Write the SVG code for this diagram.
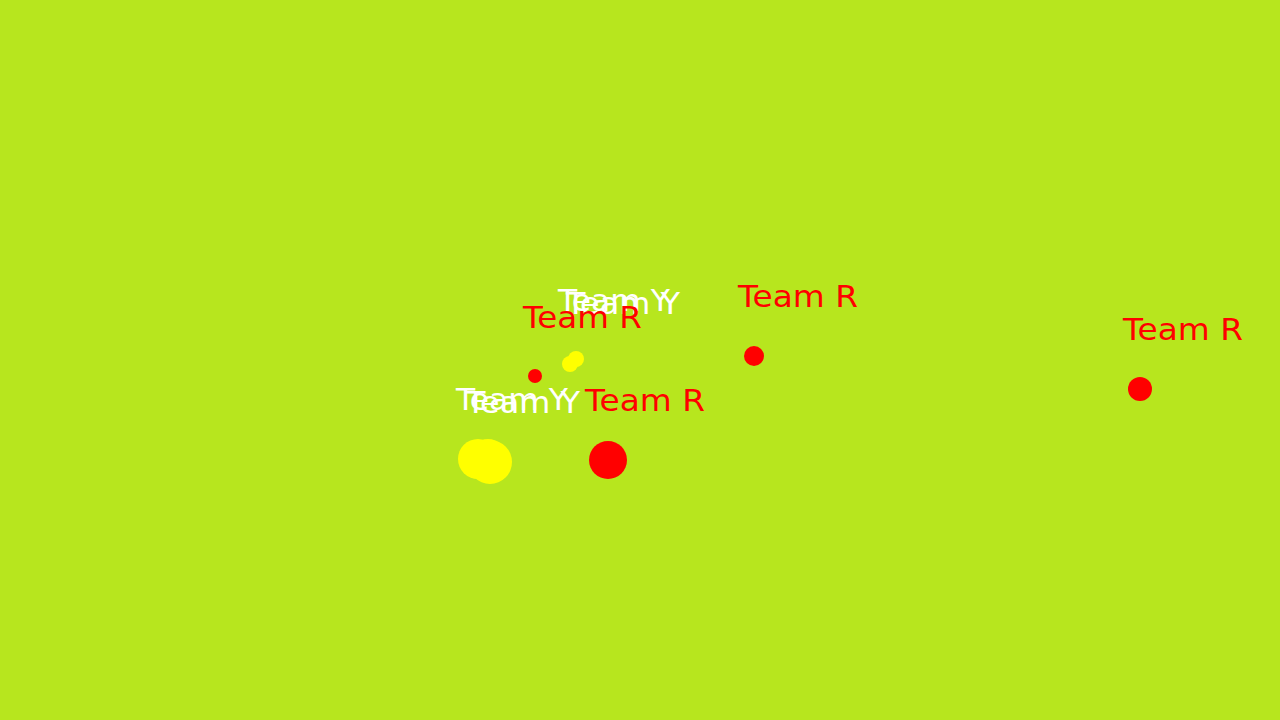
<svg xmlns="http://www.w3.org/2000/svg" width="1280" height="720" viewBox="0 0 1280 720">
<style>
.r{fill:#ff0000}
.y{fill:#ffff00}
.tr{font-family:"DejaVu Sans","Liberation Sans",sans-serif;font-size:31px;fill:#ff0000}
.ty{font-family:"DejaVu Sans","Liberation Sans",sans-serif;font-size:31px;fill:#ffffff}
</style>
<rect width="1280" height="720" fill="#b7e61e"/>
<g id="yellow1"><text class="ty" x="558" y="311" textLength="112" lengthAdjust="spacingAndGlyphs">Team Y</text><text class="ty" x="566" y="314" textLength="114" lengthAdjust="spacingAndGlyphs">Team Y</text><circle class="y" cx="570" cy="364" r="8"/><circle class="y" cx="576" cy="359" r="8"/></g>
<g id="red1"><text class="tr" x="523" y="328" textLength="119" lengthAdjust="spacingAndGlyphs">Team R</text><circle class="r" cx="535" cy="376" r="7"/></g>
<g id="red2"><text class="tr" x="738" y="307" textLength="120" lengthAdjust="spacingAndGlyphs">Team R</text><circle class="r" cx="754" cy="356" r="10"/></g>
<g id="red3"><text class="tr" x="1123" y="340" textLength="120" lengthAdjust="spacingAndGlyphs">Team R</text><circle class="r" cx="1140" cy="389" r="12"/></g>
<g id="yellow2"><text class="ty" x="456" y="410" textLength="112" lengthAdjust="spacingAndGlyphs">Team Y</text><text class="ty" x="466" y="413" textLength="114" lengthAdjust="spacingAndGlyphs">Team Y</text><circle class="y" cx="478" cy="459" r="20"/><circle class="y" cx="490" cy="462" r="22"/><circle class="y" cx="488" cy="458" r="19"/></g>
<g id="red4"><text class="tr" x="585" y="411" textLength="120" lengthAdjust="spacingAndGlyphs">Team R</text><circle class="r" cx="608" cy="460" r="19"/></g>
</svg>
